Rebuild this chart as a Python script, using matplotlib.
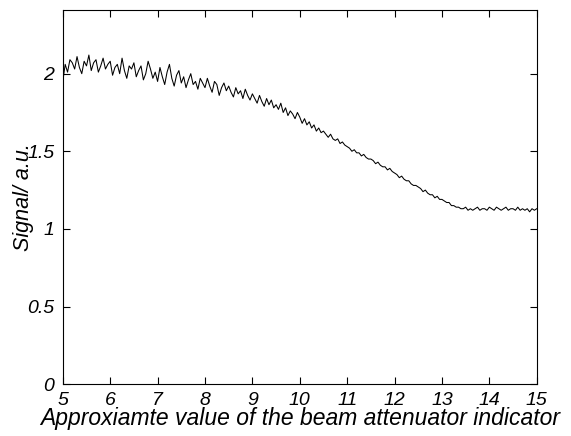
import matplotlib
matplotlib.use("Agg")
import matplotlib.pyplot as plt
import numpy as np

plt.rcParams["font.family"] = ["Liberation Sans", "DejaVu Sans"]

signal = [
    1.95, 2.06, 2.01, 2.09, 2.07, 2.03, 2.11, 2.04, 2.00, 2.08,
    2.05, 2.12, 2.02, 2.07, 2.09, 2.01, 2.05, 2.10, 2.03, 2.06,
    2.08, 1.99, 2.04, 2.06, 2.00, 2.10, 2.02, 1.97, 2.05, 2.03,
    2.07, 1.98, 2.02, 2.05, 1.96, 2.00, 2.08, 2.03, 1.97, 2.01,
    1.95, 2.04, 1.98, 1.93, 2.01, 2.06, 1.97, 1.92, 1.99, 2.02,
    1.94, 1.98, 1.91, 1.96, 2.00, 1.93, 1.95, 1.90, 1.97, 1.94,
    1.91, 1.97, 1.92, 1.88, 1.95, 1.93, 1.86, 1.91, 1.94, 1.89,
    1.92, 1.88, 1.85, 1.91, 1.87, 1.89, 1.84, 1.90, 1.86, 1.83,
    1.87, 1.84, 1.81, 1.86, 1.82, 1.79, 1.84, 1.80, 1.83, 1.78,
    1.80, 1.77, 1.81, 1.75, 1.78, 1.73, 1.76, 1.74, 1.71, 1.75,
    1.72, 1.68, 1.71, 1.67, 1.69, 1.65, 1.67, 1.63, 1.65, 1.62,
    1.63, 1.61, 1.59, 1.61, 1.58, 1.57, 1.58, 1.55, 1.56, 1.54,
    1.53, 1.52, 1.50, 1.51, 1.49, 1.49, 1.47, 1.48, 1.46, 1.45,
    1.45, 1.44, 1.42, 1.43, 1.41, 1.40, 1.40, 1.38, 1.39, 1.37,
    1.36, 1.35, 1.33, 1.34, 1.32, 1.31, 1.31, 1.29, 1.28, 1.28,
    1.27, 1.26, 1.24, 1.25, 1.23, 1.22, 1.22, 1.20, 1.21, 1.19,
    1.19, 1.18, 1.17, 1.17, 1.15, 1.15, 1.14, 1.14, 1.13, 1.13,
    1.14, 1.12, 1.13, 1.12, 1.13, 1.14, 1.12, 1.13, 1.13, 1.12,
    1.14, 1.13, 1.12, 1.14, 1.13, 1.12, 1.13, 1.14, 1.12, 1.13,
    1.13, 1.12, 1.14, 1.12, 1.13, 1.12, 1.13, 1.11, 1.13, 1.12,
    1.13,
]
x_start, x_end = 5, 15
xticks = list(range(5, 16))
yticks = [0, 0.5, 1, 1.5, 2]
ytick_labels = ["0", "0.5", "1", "1.5", "2"]

x = np.linspace(x_start, x_end, len(signal))

fig = plt.figure(figsize=(5.71, 4.36), dpi=100)
ax = fig.add_axes([0.110, 0.119, 0.830, 0.858])
ax.plot(x, signal, color="black", lw=0.75)

ax.set_xlim(x_start, x_end)
ax.set_ylim(0, 2.41)
ax.set_xticks(xticks)
ax.set_xticklabels([str(t) for t in xticks], fontsize=14, style="italic")
ax.set_yticks(yticks)
ax.set_yticklabels(ytick_labels, fontsize=14, style="italic")
ax.tick_params(direction="in", top=True, right=True, length=5, width=0.8)
ax.tick_params(axis="x", pad=6)
ax.tick_params(axis="y", pad=6)
for s in ax.spines.values():
    s.set_linewidth(0.8)

ax.set_xlabel("Approxiamte value of the beam attenuator indicator",
              fontsize=16.5, style="italic", labelpad=-2)
ax.set_ylabel("Signal/ a.u.", fontsize=15.5, style="italic", labelpad=-5)

fig.savefig("out.png", dpi=100)
